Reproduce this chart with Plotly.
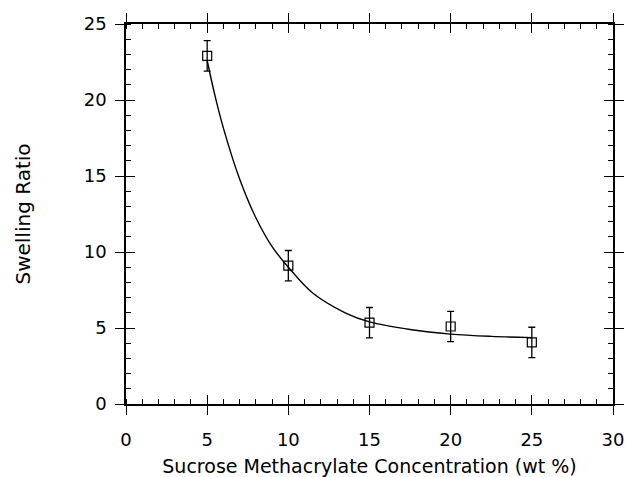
import plotly.graph_objects as go

# Measured data
conc = [5, 10, 15, 20, 25]
swelling = [22.9, 9.1, 5.35, 5.1, 4.05]
swelling_err = [1.0, 1.0, 1.0, 1.0, 1.0]

# Fitted curve
fit_x = [5.0, 5.5, 6.0, 7.0, 8.0, 9.0, 10.0, 11.5, 13.5, 15.0, 17.5, 20.0, 22.5, 25.0]
fit_y = [22.6, 20.2, 18.15, 14.8, 12.25, 10.35, 9.0, 7.3, 6.0, 5.4, 4.9, 4.6, 4.45, 4.37]

xticks = [0, 5, 10, 15, 20, 25, 30]
yticks = [0, 5, 10, 15, 20, 25]

FONT = "DejaVu Sans"

fig = go.Figure()

fig.add_trace(go.Scatter(
    x=fit_x, y=fit_y, mode="lines", line=dict(color="black", width=1.4, shape="spline", smoothing=1.0),
    xaxis="x2", yaxis="y2", showlegend=False, hoverinfo="skip"))

fig.add_trace(go.Scatter(
    x=conc, y=swelling, mode="markers",
    marker=dict(symbol="square-open", size=9, color="black", line=dict(width=1.2, color="black")),
    error_y=dict(type="data", array=swelling_err, visible=True, color="black", thickness=1.3, width=3.5),
    showlegend=False))

common = dict(showgrid=False, zeroline=False, color="black", automargin=False)

fig.update_layout(
    width=629, height=477,
    margin=dict(l=126, r=16, t=24, b=73, pad=0),
    paper_bgcolor="white", plot_bgcolor="white",
    font=dict(family=FONT, size=18, color="black"),
    xaxis=dict(
        range=[0, 30], tickvals=xticks, ticktext=[str(v) for v in xticks],
        ticks="outside", ticklen=9, tickwidth=1.3, tickcolor="black",
        showline=True, linewidth=1.5, linecolor="black", mirror="ticks",
        minor=dict(dtick=1, ticks="inside", ticklen=5, tickwidth=1.1, tickcolor="black"),
        ticklabelstandoff=10, ticklabeloverflow="allow",
        title=dict(text="Sucrose Methacrylate Concentration (wt %)", standoff=14,
                   font=dict(family=FONT, size=19)),
        tickfont=dict(family=FONT, size=18),
        **common),
    yaxis=dict(
        range=[0, 25], tickvals=yticks, ticktext=[str(v) for v in yticks],
        ticks="outside", ticklen=9, tickwidth=1.3, tickcolor="black",
        showline=True, linewidth=1.5, linecolor="black", mirror="ticks",
        minor=dict(dtick=1, ticks="inside", ticklen=5, tickwidth=1.1, tickcolor="black"),
        ticklabelstandoff=5,
        title=dict(text="Swelling Ratio", standoff=48, font=dict(family=FONT, size=20)),
        tickfont=dict(family=FONT, size=18),
        **common),
    xaxis2=dict(
        range=[0, 30], overlaying="x", anchor="y2", side="bottom",
        tickvals=xticks, ticks="inside", ticklen=9, tickwidth=1.3, tickcolor="black",
        showticklabels=False, showline=False, mirror="ticks", **common),
    yaxis2=dict(
        range=[0, 25], overlaying="y", anchor="x2", side="left",
        tickvals=yticks, ticks="inside", ticklen=9, tickwidth=1.3, tickcolor="black",
        showticklabels=False, showline=False, mirror="ticks", **common),
)

fig.write_html(
    "out.html",
    config={"displayModeBar": False},
    post_script="document.body.style.margin='0px'; document.body.style.overflow='hidden';",
)
